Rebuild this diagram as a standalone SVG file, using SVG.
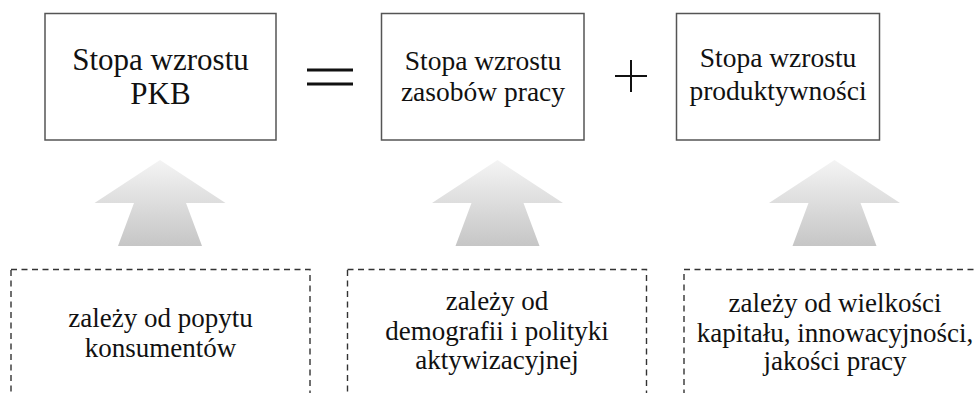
<svg xmlns="http://www.w3.org/2000/svg" width="977" height="393" viewBox="0 0 977 393">
  <style>
    .box { fill: #ffffff; stroke: #555555; stroke-width: 1.5; }
    .dbox { fill: none; stroke: #333333; stroke-width: 1.4; stroke-dasharray: 6 4.5; }
    text { font-family: 'Liberation Serif', 'Times New Roman', serif; fill: #111111; text-anchor: middle; }
    .big { font-size: 31px; }
    .mid { font-size: 27.5px; }
    .small { font-size: 27px; }
    .op { stroke: #111111; fill: none; }
    .arrow { fill: url(#grad); }
  </style>
  <defs>
    <linearGradient id="grad" x1="0" y1="0" x2="0" y2="1">
      <stop offset="0" stop-color="#f4f4f4"/>
      <stop offset="1" stop-color="#c6c6c6"/>
    </linearGradient>
  </defs>
  <rect width="977" height="393" fill="#ffffff"/>

  <g id="node-pkb">
    <rect class="box" x="45" y="13.5" width="231" height="126.5"/>
    <text class="big" x="160.5" y="70">Stopa wzrostu</text>
    <text class="big" x="160.5" y="103.5">PKB</text>
  </g>
  <g id="node-zasoby">
    <rect class="box" x="381.5" y="13.5" width="202.5" height="126.5"/>
    <text class="mid" x="483" y="69.5">Stopa wzrostu</text>
    <text class="mid" x="483" y="101">zasobów pracy</text>
  </g>
  <g id="node-produktywnosc">
    <rect class="box" x="676.5" y="13.5" width="203" height="126.5"/>
    <text class="mid" x="778" y="67">Stopa wzrostu</text>
    <text class="mid" x="778" y="100">produktywności</text>
  </g>

  <g id="op-equals">
    <line class="op" x1="307" y1="70" x2="353" y2="70" stroke-width="3"/>
    <line class="op" x1="307" y1="84" x2="353" y2="84" stroke-width="3"/>
  </g>
  <g id="op-plus">
    <line class="op" x1="615" y1="76" x2="647" y2="76" stroke-width="2"/>
    <line class="op" x1="631" y1="60" x2="631" y2="92" stroke-width="2"/>
  </g>

  <g id="connectors">
    <path class="arrow" d="M160,160 L225.5,203 L186,203 L202,246 L118,246 L134,203 L94.5,203 Z"/>
    <path class="arrow" d="M497.5,160 L563,203 L523.5,203 L539.5,246 L455.5,246 L471.5,203 L432,203 Z"/>
    <path class="arrow" d="M834.5,160 L900,203 L860.5,203 L876.5,246 L792.5,246 L808.5,203 L769,203 Z"/>
  </g>

  <g id="node-popyt">
    <rect class="dbox" x="11" y="269.5" width="299" height="140"/>
    <text class="small" x="160.5" y="327">zależy od popytu</text>
    <text class="small" x="160.5" y="357">konsumentów</text>
  </g>
  <g id="node-demografia">
    <rect class="dbox" x="347.5" y="269.5" width="299" height="140"/>
    <text class="small" x="497" y="310">zależy od</text>
    <text class="small" x="497" y="340">demografii i polityki</text>
    <text class="small" x="497" y="369">aktywizacyjnej</text>
  </g>
  <g id="node-kapital">
    <rect class="dbox" x="684" y="269.5" width="301" height="140"/>
    <text class="small" x="835" y="311.5">zależy od wielkości</text>
    <text class="small" x="835" y="341.5">kapitału, innowacyjności,</text>
    <text class="small" x="835" y="370">jakości pracy</text>
  </g>
</svg>
